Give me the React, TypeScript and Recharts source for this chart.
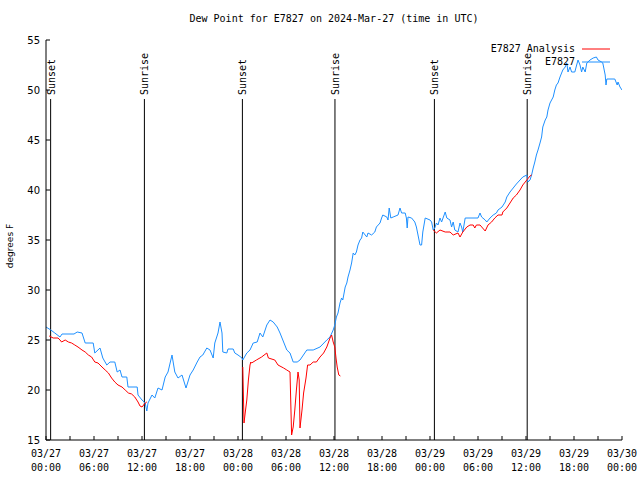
import { LineChart, Line, XAxis, YAxis, ReferenceLine, ReferenceDot, Legend } from 'recharts'

// hours since 03/27 00:00 UTC, dew point in degrees F
const obsHours = [
  0, 0.6, 1.1, 1.75, 2.0, 3.5, 3.9, 4.5, 4.9, 5.9, 6.1, 6.75, 7.1, 7.6, 8.0, 8.6, 8.9, 9.25, 9.5, 10.1,
  10.25, 11.4, 11.5, 12.0, 12.4, 12.6, 12.75, 13.25, 13.6, 14.0, 14.5, 14.9, 15.25, 15.75, 16.1, 16.5, 17.0, 17.5, 18.0, 18.4,
  18.9, 19.25, 19.6, 20.1, 20.5, 20.9, 21.1, 21.5, 21.75, 22.0, 22.1, 22.6, 22.75, 23.4, 23.6, 24.0, 24.5, 24.6, 25.1, 25.5,
  25.9, 26.4, 26.75, 27.1, 27.6, 28.0, 28.4, 28.9, 29.25, 29.6, 30.1, 30.5, 30.9, 31.4, 31.75, 32.6, 33.4, 34.25, 35.1, 35.5,
  35.9, 36.1, 36.3, 36.5, 36.75, 36.95, 37.1, 37.4, 37.6, 37.75, 38.0, 38.2, 38.4, 38.6, 38.8, 39.0, 39.25, 39.45, 39.6, 40.1,
  40.25, 40.7, 41.1, 41.3, 41.75, 41.95, 42.1, 42.6, 42.75, 42.9, 43.1, 43.4, 44.0, 44.25, 44.45, 44.9, 45.05, 45.15, 45.25, 45.7,
  46.1, 46.3, 46.5, 46.75, 46.95, 47.1, 47.4, 48.0, 48.2, 48.4, 48.6, 48.8, 49.0, 49.25, 49.45, 49.9, 50.1, 50.5, 50.7, 50.9,
  51.1, 51.5, 51.75, 51.95, 52.1, 52.4, 54.0, 54.25, 54.45, 54.9, 55.1, 55.5, 55.9, 56.3, 56.5, 57.0, 57.4, 57.6, 58.0, 58.4,
  58.8, 59.25, 59.6, 60.1, 60.25, 60.5, 60.7, 60.9, 61.1, 61.3, 61.5, 61.75, 61.95, 62.1, 62.4, 62.6, 62.75, 63.0, 63.2, 63.4,
  63.6, 63.8, 64.0, 64.25, 64.45, 64.6, 64.9, 65.1, 65.25, 65.5, 65.7, 66.1, 66.5, 66.75, 66.95, 67.1, 67.4, 67.6, 68.0, 68.4,
  68.8, 69.0, 69.45, 69.6, 69.9, 70.0, 70.1, 71.1, 71.4, 71.5, 71.75, 72,
]
const obsValues = [
  26.3, 26.0, 25.7, 25.3, 25.6, 25.6, 25.8, 25.7, 24.7, 24.7, 23.7, 24.2, 23.2, 22.5, 22.8, 22.8, 21.8, 22.0, 21.3, 21.3,
  20.3, 20.3, 19.5, 19.0, 18.7, 17.9, 18.7, 19.5, 19.2, 20.2, 20.0, 21.3, 21.8, 23.5, 21.8, 21.2, 21.5, 20.2, 21.5, 22.0,
  22.8, 23.3, 23.5, 24.2, 24.0, 23.2, 24.7, 25.7, 26.8, 25.7, 23.8, 23.7, 24.1, 24.1, 23.7, 23.5, 23.2, 23.0, 23.7, 24.0,
  24.7, 24.8, 25.7, 25.3, 26.5, 27.0, 26.8, 26.3, 25.7, 25.0, 24.0, 23.7, 22.8, 22.8, 23.0, 24.0, 24.0, 24.3, 25.0, 25.3,
  26.0, 26.5, 27.3, 27.7, 28.7, 29.2, 29.0, 30.3, 30.7, 31.3, 32.0, 32.7, 33.7, 33.5, 33.8, 34.5, 35.0, 35.2, 35.8, 35.3,
  35.7, 35.5, 35.8, 36.3, 36.7, 37.2, 37.5, 37.3, 37.0, 38.2, 37.2, 37.3, 37.5, 38.2, 37.7, 37.7, 37.2, 36.2, 37.3, 37.2,
  36.8, 36.3, 35.5, 34.5, 34.5, 35.8, 37.2, 37.0, 36.8, 36.0, 36.2, 36.7, 36.5, 37.2, 36.8, 37.8, 37.2, 37.0, 36.3, 36.8,
  36.0, 35.8, 36.7, 36.3, 35.8, 37.2, 37.2, 37.7, 37.3, 37.0, 36.8, 37.2, 37.5, 37.7, 38.0, 38.3, 38.8, 39.3, 39.8, 40.2,
  40.6, 41.0, 41.3, 41.5, 40.8, 41.0, 41.5, 42.2, 42.8, 43.5, 44.0, 44.7, 45.3, 46.3, 47.0, 47.3, 48.0, 48.7, 49.0, 49.3,
  50.0, 50.5, 50.7, 51.3, 51.7, 52.0, 52.3, 52.7, 51.8, 52.3, 51.8, 51.8, 53.0, 52.5, 51.8, 52.3, 51.8, 52.7, 53.0, 53.2,
  53.3, 53.0, 52.8, 52.7, 51.5, 50.5, 51.1, 51.1, 50.5, 50.8, 50.3, 50.0,
]

// analysis: null marks a gap between segments
const anaHours = [
  0.4, 0.9, 1.5, 1.75, 1.95, 2.4, 2.8, 3.2, 3.6, 4.0, 4.5, 4.9, 5.3, 5.7, 6.1, 6.5, 7.0, 7.4, 7.8, 8.2,
  8.6, 9.0, 9.5, 9.9, 10.3, 10.7, 11.1, 11.5, 11.75, 12.0, 12.4, 12.6, 18,
  24.6, 24.75, 24.9, 25.1, 25.3, 25.5, 25.6, 25.7, 26.3, 26.95, 27.6, 27.8, 28.6, 29.0, 29.7, 30.1, 30.5, 30.7, 30.9, 31.1,
  31.3, 31.5, 31.65, 31.75, 32.0, 32.2, 32.5, 32.7, 33.0, 33.4, 33.8, 34.25, 34.7, 35.1, 35.5, 35.7, 35.9, 36.1, 36.25, 36.4,
  36.6, 36.8, 42,
  48.4, 48.8, 49.25, 49.9, 50.5, 50.9, 51.5, 51.75, 52.1, 52.6, 53.0, 53.4, 53.6, 53.8, 54.25, 54.9, 55.25, 55.7, 56.1, 56.5,
  57.0, 57.1, 57.6, 58.0, 58.4, 58.8, 59.25, 59.6, 60.1, 60.5, 60.7,
]
const anaValues = [
  25.4, 25.2, 25.2, 25.0, 24.8, 25.0, 24.8, 24.7, 24.5, 24.3, 24.0, 23.8, 23.5, 23.3, 22.8, 22.7, 22.3, 22.0, 21.7, 21.2,
  20.8, 20.5, 20.3, 20.0, 19.7, 19.6, 19.3, 18.8, 18.4, 18.3, 18.7, 18.8, null,
  22.3, 16.7, 17.7, 19.0, 21.0, 22.5, 22.8, 22.7, 23.0, 23.3, 23.7, 23.2, 23.0, 22.5, 22.2, 22.0, 21.8, 15.5, 16.3, 18.0,
  20.0, 21.8, 21.0, 16.2, 18.0, 19.7, 21.2, 22.5, 22.5, 22.8, 22.8, 23.3, 23.7, 24.3, 25.2, 25.5, 24.8, 24.3, 23.2, 22.3,
  21.5, 21.4, null,
  36.0, 35.7, 36.0, 35.8, 35.8, 35.5, 35.7, 35.3, 35.8, 36.3, 36.5, 36.5, 36.2, 36.5, 36.5, 35.9, 36.5, 36.8, 37.2, 37.5,
  37.5, 37.8, 38.2, 38.7, 39.2, 39.5, 40.0, 40.5, 41.0, 41.4, 41.5,
]

const sunHours = [0.58, 12.3, 24.55, 36.12, 48.55, 60.15]
const sunLabels = ['Sunset', 'Sunrise', 'Sunset', 'Sunrise', 'Sunset', 'Sunrise']

const xTicks = Array.from({ length: 25 }, (_, i) => i * 3)
const yTicks = [15, 20, 25, 30, 35, 40, 45, 50, 55]

const obsData = obsHours.map((h, i) => ({ h, v: obsValues[i] }))
const anaData = anaHours.map((h, i) => ({ h, v: anaValues[i] }))

const BLUE = '#1e90ff'
const RED = '#ff0000'
const MONO = '"DejaVu Sans Mono", monospace'
const SANS = '"DejaVu Sans", sans-serif'

const pad = (n: number) => (n < 10 ? '0' + n : '' + n)

function BottomTick({ x, y, payload }: any) {
  const h = payload.value
  return (
    <g>
      <line x1={x} y1={y} x2={x} y2={y - 4} stroke="#000" />
      {h % 6 === 0 && (
        <text textAnchor="middle" fontSize={10} fontFamily={MONO} fill="#000">
          <tspan x={x} y={y + 17}>{`03/${27 + Math.floor(h / 24)}`}</tspan>
          <tspan x={x} y={y + 31}>{`${pad(h % 24)}:00`}</tspan>
        </text>
      )}
    </g>
  )
}

function TopTick({ x, y }: any) {
  return <line x1={x} y1={y} x2={x} y2={y + 4} stroke="#000" />
}

function LeftTick({ x, y, payload }: any) {
  return (
    <g>
      <line x1={x} y1={y} x2={x + 4} y2={y} stroke="#000" />
      <text x={x - 6} y={y + 4} textAnchor="end" fontSize={10} fontFamily={SANS} fill="#000">
        {payload.value}
      </text>
    </g>
  )
}

function RightTick({ x, y }: any) {
  return <line x1={x} y1={y} x2={x - 4} y2={y} stroke="#000" />
}

function renderLegend(props: any) {
  const items = [...(props.payload || [])].reverse()
  return (
    <svg width={180} height={30}>
      {items.map((it: any, i: number) => (
        <g key={it.value}>
          <text x={135} y={12 + i * 13} textAnchor="end" fontSize={10} fontFamily={MONO} fill="#000">
            {it.value}
          </text>
          <line x1={142} x2={170} y1={9 + i * 13} y2={9 + i * 13} stroke={it.color} />
        </g>
      ))}
    </svg>
  )
}

export default function App() {
  return (
    <div style={{ position: 'absolute', left: 0, top: 0, width: 640, height: 480, background: '#fff' }}>
      <div
        style={{
          position: 'absolute', left: 46, top: 13, width: 576, textAlign: 'center',
          fontFamily: MONO, fontSize: 10, lineHeight: '12px',
        }}
      >
        Dew Point for E7827 on 2024-Mar-27 (time in UTC)
      </div>
      <div
        style={{
          position: 'absolute', left: -20, top: 240, width: 60, height: 12, lineHeight: '12px',
          textAlign: 'center', fontFamily: SANS, fontSize: 9, transform: 'rotate(-90deg)',
        }}
      >
        degrees F
      </div>
      <LineChart width={640} height={480} margin={{ top: 40, right: 18, bottom: 0, left: 6 }}>
        <XAxis
          type="number" dataKey="h" domain={[0, 72]} ticks={xTicks} interval={0} allowDataOverflow
          height={40} tickSize={0} tickMargin={0} tickLine={false} axisLine={{ stroke: '#000' }} tick={<BottomTick />}
        />
        <XAxis
          xAxisId="top" orientation="top" type="number" domain={[0, 72]} ticks={xTicks} interval={0}
          allowDataOverflow height={0} tickSize={0} tickMargin={0} tickLine={false} axisLine={{ stroke: '#000' }}
          tick={<TopTick />}
        />
        <YAxis
          type="number" domain={[15, 55]} ticks={yTicks} interval={0} allowDataOverflow width={40}
          tickSize={0} tickMargin={0} tickLine={false} axisLine={{ stroke: '#000' }} tick={<LeftTick />}
        />
        <YAxis
          yAxisId="right" orientation="right" type="number" domain={[15, 55]} ticks={yTicks} interval={0}
          allowDataOverflow width={0} tickSize={0} tickMargin={0} tickLine={false} axisLine={{ stroke: '#000' }}
          tick={<RightTick />}
        />
        {sunHours.map((t, i) => (
          <ReferenceLine
            key={'l' + i}
            segment={[{ x: t, y: 15 }, { x: t, y: 49.1 }]}
            stroke="#000"
            strokeWidth={1}
          />
        ))}
        {sunHours.map((t, i) => (
          <ReferenceDot
            key={'d' + i}
            x={t}
            y={49.5}
            r={0}
            shape={(p: any) => (
              <text
                x={p.cx + 4}
                y={p.cy}
                transform={`rotate(-90 ${p.cx + 4} ${p.cy})`}
                textAnchor="start"
                fontSize={10}
                fontFamily={MONO}
                fill="#000"
              >
                {sunLabels[i]}
              </text>
            )}
          />
        ))}
        <Line
          data={obsData} dataKey="v" name="E7827" type="linear" stroke={BLUE} strokeWidth={1}
          dot={false} isAnimationActive={false}
        />
        <Line
          data={anaData} dataKey="v" name="E7827 Analysis" type="linear" stroke={RED} strokeWidth={1}
          dot={false} connectNulls={false} isAnimationActive={false}
        />
        <Legend
          layout="horizontal" align="center" verticalAlign="middle" content={renderLegend}
          wrapperStyle={{ top: 40, left: 440, width: 180, height: 30 }}
        />
      </LineChart>
    </div>
  )
}
